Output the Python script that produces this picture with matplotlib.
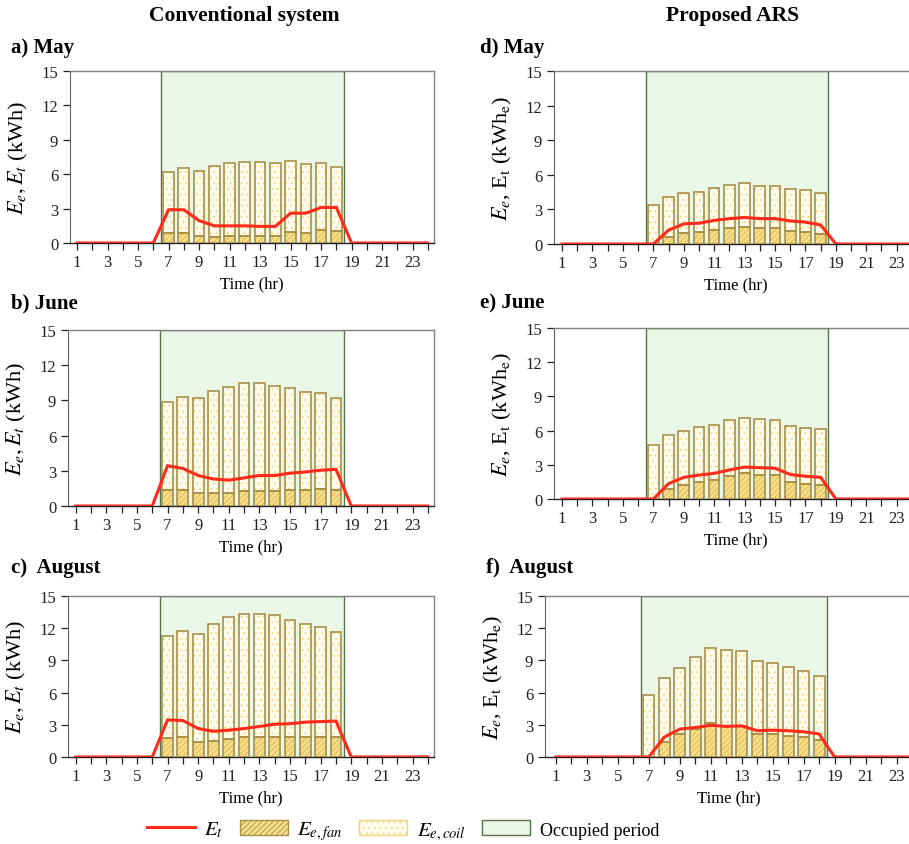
import numpy as np
import matplotlib
matplotlib.use("Agg")
from matplotlib import pyplot as plt
from matplotlib.patches import Patch
from matplotlib.lines import Line2D

plt.rcParams['font.family'] = ['Liberation Serif', 'DejaVu Serif']
plt.rcParams['mathtext.fontset'] = 'stix'
plt.rcParams['hatch.linewidth'] = 0.6

hours = np.arange(1, 25)
bar_hours = np.arange(7, 19)

# total bar heights (fan + coil) and fan part, hours 7..18
conv_may_total = [6.2, 6.5, 6.3, 6.7, 6.95, 7.1, 7.05, 6.95, 7.15, 6.85, 6.95, 6.6]
conv_may_fan = [0.85, 0.9, 0.65, 0.55, 0.6, 0.6, 0.6, 0.6, 1.0, 0.9, 1.15, 1.05]
conv_jun_total = [8.9, 9.25, 9.2, 9.8, 10.15, 10.45, 10.45, 10.25, 10.05, 9.75, 9.6, 9.2]
conv_jun_fan = [1.4, 1.4, 1.15, 1.1, 1.1, 1.3, 1.3, 1.25, 1.38, 1.35, 1.42, 1.38]
conv_aug_total = [11.25, 11.7, 11.5, 12.35, 13.05, 13.35, 13.35, 13.2, 12.8, 12.4, 12.15, 11.65]
conv_aug_fan = [1.8, 1.85, 1.4, 1.5, 1.7, 1.82, 1.82, 1.85, 1.85, 1.85, 1.85, 1.85]

ars_may_total = [3.4, 4.1, 4.4, 4.55, 4.85, 5.1, 5.25, 5.05, 5.0, 4.8, 4.65, 4.45]
ars_may_fan = [0.0, 0.65, 0.95, 1.0, 1.2, 1.4, 1.5, 1.35, 1.35, 1.15, 1.05, 0.9]
ars_jun_total = [4.7, 5.6, 6.0, 6.28, 6.5, 6.95, 7.13, 7.0, 6.95, 6.38, 6.22, 6.1]
ars_jun_fan = [0.0, 0.88, 1.23, 1.5, 1.67, 2.05, 2.25, 2.1, 2.08, 1.47, 1.35, 1.2]
ars_aug_total = [5.75, 7.35, 8.28, 9.32, 10.12, 9.95, 9.85, 8.95, 8.75, 8.4, 8.05, 7.55]
ars_aug_fan = [0.0, 1.4, 2.17, 2.65, 3.15, 2.88, 2.85, 2.14, 2.17, 2.0, 1.86, 1.6]

# total energy line, hours 1..24
conv_may_et = [0, 0, 0, 0, 0, 0, 2.9, 2.9, 1.95, 1.5, 1.5, 1.5, 1.45, 1.45, 2.6, 2.6, 3.1, 3.1, 0, 0, 0, 0, 0, 0]
conv_jun_et = [0, 0, 0, 0, 0, 0, 3.43, 3.2, 2.6, 2.3, 2.2, 2.4, 2.6, 2.6, 2.8, 2.9, 3.05, 3.12, 0, 0, 0, 0, 0, 0]
conv_aug_et = [0, 0, 0, 0, 0, 0, 3.45, 3.4, 2.65, 2.4, 2.5, 2.65, 2.85, 3.05, 3.1, 3.25, 3.3, 3.35, 0, 0, 0, 0, 0, 0]
ars_may_et = [0, 0, 0, 0, 0, 0, 0, 1.2, 1.75, 1.8, 2.05, 2.2, 2.3, 2.2, 2.2, 2.0, 1.9, 1.65, 0, 0, 0, 0, 0, 0]
ars_jun_et = [0, 0, 0, 0, 0, 0, 0, 1.35, 1.9, 2.1, 2.25, 2.55, 2.8, 2.75, 2.7, 2.15, 2.0, 1.9, 0, 0, 0, 0, 0, 0]
ars_aug_et = [0, 0, 0, 0, 0, 0, 0, 1.85, 2.6, 2.75, 2.95, 2.85, 2.9, 2.45, 2.5, 2.45, 2.35, 2.15, 0, 0, 0, 0, 0, 0]

occupied = (6.5, 18.5)

W, H = 909, 845
fig = plt.figure(figsize=(W / 100, H / 100), dpi=100)

red = '#FF2A1A'
fan_face = '#F6DE8C'
fan_hatch = '#D9B650'
coil_face = '#FFFCEC'
coil_hatch = '#F3D47C'
bar_edge = '#A89049'
occ_face = '#EAF6E6'
occ_edge = '#55744A'


def make_axes(left, right, top, bottom, x0, x1):
    ax = fig.add_axes([left / W, 1 - bottom / H, (right - left) / W, (bottom - top) / H])
    ax.set_xlim(x0, x1)
    ax.set_ylim(0, 15)
    return ax


def draw_panel(ax, total, fan, et, ylabel):
    coil = np.array(total) - np.array(fan)
    ax.axvspan(occupied[0], occupied[1], facecolor=occ_face, edgecolor=occ_edge, lw=1.0, zorder=0)
    ax.bar(bar_hours, fan, width=0.7, facecolor=fan_face, edgecolor=fan_hatch, hatch='//////', lw=0, zorder=2)
    ax.bar(bar_hours, coil, width=0.7, bottom=fan, facecolor=coil_face, edgecolor=coil_hatch, hatch='...', lw=0, zorder=2)
    ax.bar(bar_hours, fan, width=0.7, fill=False, edgecolor=bar_edge, lw=1.2, zorder=3)
    ax.bar(bar_hours, coil, width=0.7, bottom=fan, fill=False, edgecolor=bar_edge, lw=1.2, zorder=3)
    ax.plot(hours, et, color=red, lw=2.2, zorder=4, solid_joinstyle='miter')
    ax.set_yticks([0, 3, 6, 9, 12, 15])
    ax.set_xticks(np.arange(1, 24, 2))
    ax.set_xticks(np.arange(1, 25), minor=True)
    ax.tick_params(axis='both', labelsize=12, direction='out', length=5, width=0.9, colors='#222222')
    ax.tick_params(axis='x', which='minor', length=5, width=0.9, color='#222222')
    ax.tick_params(axis='x', pad=3)
    for s in ['top', 'right']:
        ax.spines[s].set_color('#808080')
        ax.spines[s].set_linewidth(1.0)
    ax.spines['left'].set_color('#606060')
    ax.spines['bottom'].set_color('#222222')
    ax.spines['bottom'].set_linewidth(1.0)
    ax.set_xlabel('Time (hr)', fontsize=12, labelpad=4)
    ax.set_ylabel(ylabel, fontsize=16, labelpad=8)


lab_conv = r'$E_e, E_t$ (kWh)'
lab_ars = r'$E_e$, E$_\mathrm{t}$ (kWh$_\mathrm{e}$)'

ax_a = make_axes(70, 434, 72, 244, 0.54, 24.4)
draw_panel(ax_a, conv_may_total, conv_may_fan, conv_may_et, lab_conv)
ax_b = make_axes(68, 434, 331, 507, 0.5, 24.4)
draw_panel(ax_b, conv_jun_total, conv_jun_fan, conv_jun_et, lab_conv)
ax_c = make_axes(68, 434, 597, 758, 0.5, 24.4)
draw_panel(ax_c, conv_aug_total, conv_aug_fan, conv_aug_et, lab_conv)

ax_d = make_axes(554, 918, 72, 245, 0.47, 24.4)
draw_panel(ax_d, ars_may_total, ars_may_fan, ars_may_et, lab_ars)
ax_e = make_axes(554, 918, 329, 500, 0.47, 24.4)
draw_panel(ax_e, ars_jun_total, ars_jun_fan, ars_jun_et, lab_ars)
ax_f = make_axes(545, 912, 597, 758, 0.3, 24.0)
draw_panel(ax_f, ars_aug_total, ars_aug_fan, ars_aug_et, lab_ars)

def ftext(x, y, s, **kw):
    fig.text(x / W, 1 - y / H, s, va='center', **kw)

ftext(244, 16, 'Conventional system', ha='center', fontsize=15.5, fontweight='bold')
ftext(733, 16, 'Proposed ARS', ha='center', fontsize=15.5, fontweight='bold')
ftext(11, 48, 'a) May', ha='left', fontsize=15, fontweight='bold')
ftext(480, 48, 'd) May', ha='left', fontsize=15, fontweight='bold')
ftext(11, 303, 'b) June', ha='left', fontsize=15, fontweight='bold')
ftext(480, 303, 'e) June', ha='left', fontsize=15, fontweight='bold')
ftext(11, 568, 'c)  August', ha='left', fontsize=15, fontweight='bold')
ftext(486, 568, 'f)  August', ha='left', fontsize=15, fontweight='bold')

handles = [
    Line2D([0], [0], color=red, lw=2.2),
    Patch(facecolor=fan_face, edgecolor=bar_edge, hatch='//////', lw=1.0),
    Patch(facecolor=coil_face, edgecolor=coil_hatch, hatch='...', lw=1.0),
    Patch(facecolor=occ_face, edgecolor=occ_edge, lw=1.0),
]
labels = [r'$E_t$', r'$E_{e,fan}$', r'$E_{e,coil}$', 'Occupied period']
leg = fig.legend(handles, labels, loc='center', bbox_to_anchor=(403 / W, 1 - 832 / H), ncol=4,
                 frameon=False, fontsize=15, handlelength=2.3, handleheight=0.7,
                 columnspacing=0.8, handletextpad=0.45)
leg.get_texts()[3].set_fontsize(13)

fig.savefig('out.png', dpi=100)
